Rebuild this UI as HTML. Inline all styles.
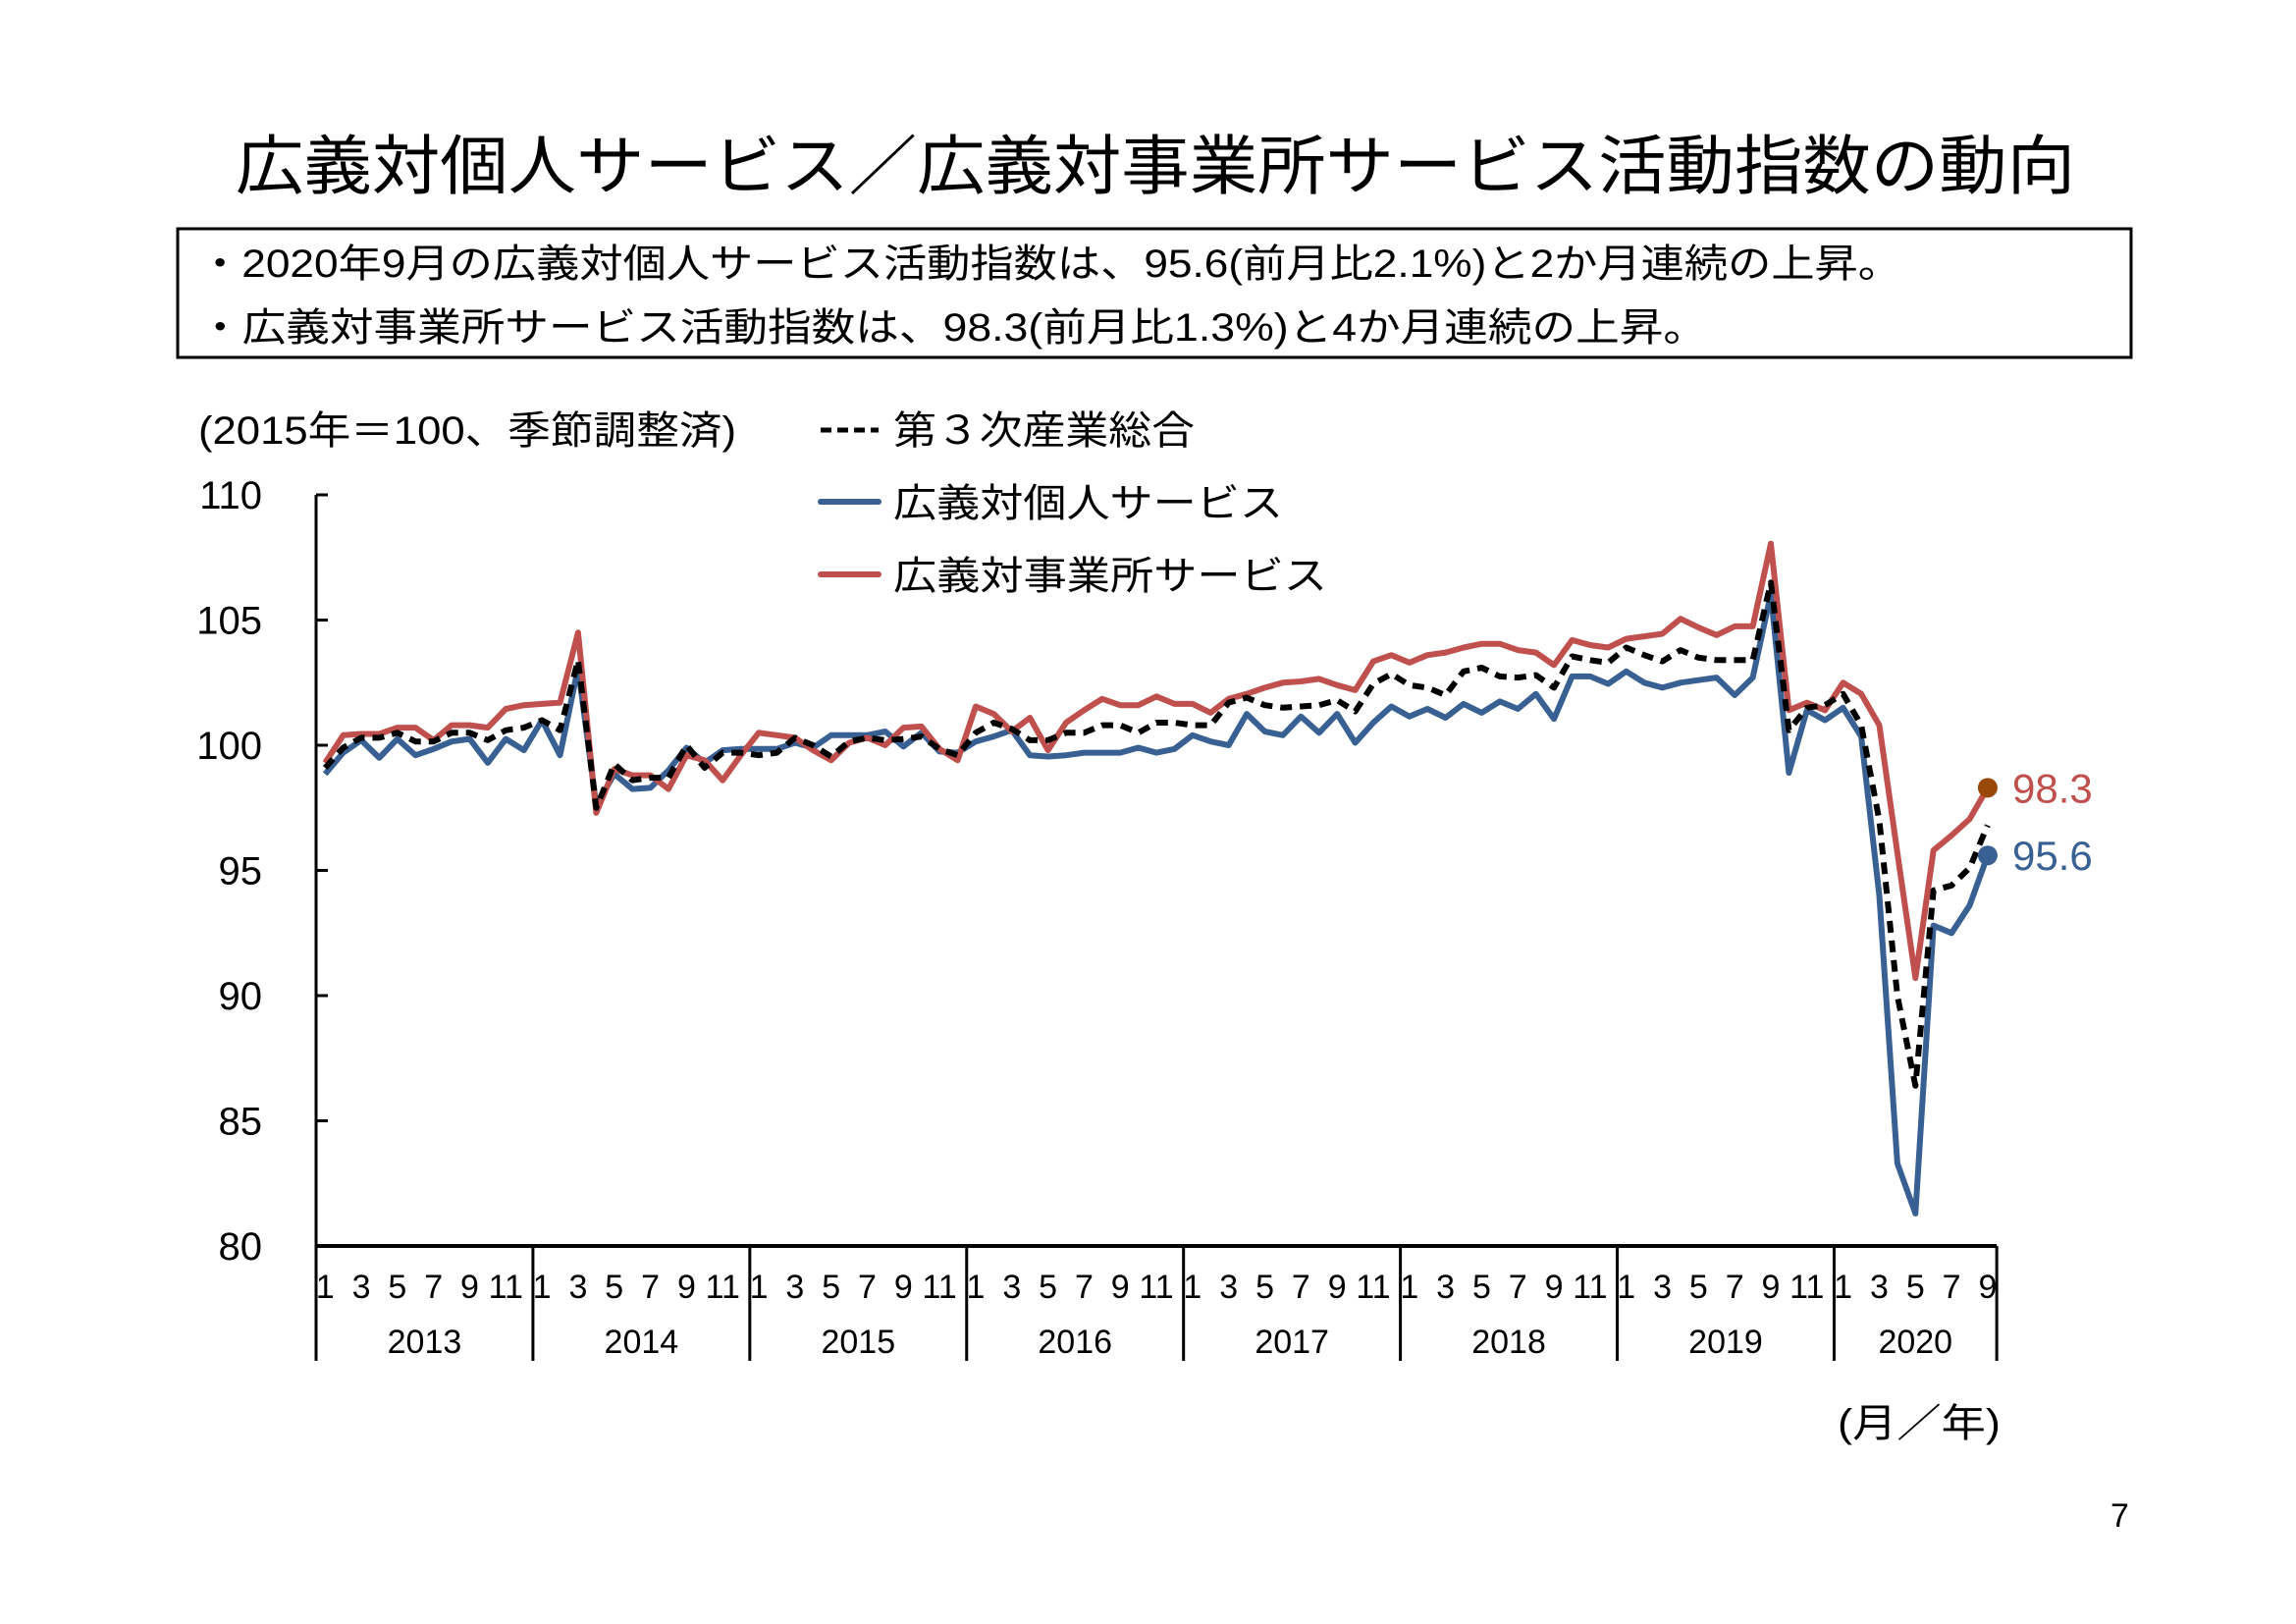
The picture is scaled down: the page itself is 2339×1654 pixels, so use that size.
<!DOCTYPE html>
<html><head><meta charset="utf-8"><style>
html,body{margin:0;padding:0;background:#fff;}
svg{display:block;font-family:"Liberation Sans","Noto Sans CJK JP",sans-serif;}
</style></head><body>
<svg id="chart" width="2339" height="1654" viewBox="0 0 2339 1654" xmlns="http://www.w3.org/2000/svg">
<text x="240" y="192" font-size="66" textLength="1874" lengthAdjust="spacingAndGlyphs">広義対個人サービス／広義対事業所サービス活動指数の動向</text>
<rect x="181" y="233" width="1990" height="131" fill="none" stroke="#000" stroke-width="3"/>
<text x="202" y="282" font-size="40" textLength="1735" lengthAdjust="spacingAndGlyphs">・2020年9月の広義対個人サービス活動指数は、95.6(前月比2.1%)と2か月連続の上昇。</text>
<text x="202" y="347" font-size="40" textLength="1537" lengthAdjust="spacingAndGlyphs">・広義対事業所サービス活動指数は、98.3(前月比1.3%)と4か月連続の上昇。</text>
<text x="202" y="452" font-size="40" textLength="548" lengthAdjust="spacingAndGlyphs">(2015年＝100、季節調整済)</text>
<g>
<line x1="836" y1="438" x2="895" y2="438" stroke="#000" stroke-width="5" stroke-dasharray="11,6"/>
<text x="910" y="452" font-size="40" textLength="307" lengthAdjust="spacingAndGlyphs">第３次産業総合</text>
<line x1="836" y1="511" x2="895" y2="511" stroke="#386092" stroke-width="6" stroke-linecap="round"/>
<text x="910" y="526" font-size="40" textLength="397" lengthAdjust="spacingAndGlyphs">広義対個人サービス</text>
<line x1="836" y1="585" x2="895" y2="585" stroke="#C0504D" stroke-width="6" stroke-linecap="round"/>
<text x="910" y="600" font-size="40" textLength="442" lengthAdjust="spacingAndGlyphs">広義対事業所サービス</text>
</g>
<g id="plot"></g>
<text x="1872" y="1463" font-size="40" textLength="166" lengthAdjust="spacingAndGlyphs">(月／年)</text>
<text x="2150" y="1555" font-size="34">7</text>
</svg>
<script>
const years = ["2013","2014","2015","2016","2017","2018","2019","2020"];
const yTicks = [80,85,90,95,100,105,110];
const personal = [98.85,99.7,100.2,99.5,100.25,99.6,99.85,100.15,100.25,99.3,100.25,99.8,
101.0,99.6,103.1,97.6,98.85,98.25,98.3,99.0,99.9,99.3,99.8,99.85,
99.85,99.85,100.1,99.9,100.4,100.4,100.4,100.55,99.95,100.5,99.75,99.7,
100.15,100.35,100.6,99.6,99.55,99.6,99.7,99.7,99.7,99.9,99.7,99.85,
100.4,100.15,100.0,101.25,100.55,100.4,101.15,100.5,101.25,100.1,100.9,101.55,
101.15,101.45,101.1,101.65,101.3,101.75,101.45,102.05,101.05,102.75,102.75,102.45,
102.95,102.5,102.3,102.5,102.6,102.7,102.0,102.7,106.05,98.9,101.4,101.0,
101.5,100.35,94.0,83.3,81.3,92.8,92.5,93.6,95.6];
const business = [99.3,100.4,100.45,100.45,100.7,100.7,100.2,100.8,100.8,100.7,101.45,101.6,
101.65,101.7,104.5,97.3,99.05,98.8,98.8,98.25,99.6,99.4,98.6,99.6,
100.5,100.4,100.3,99.8,99.4,100.1,100.3,100.0,100.7,100.75,99.85,99.4,
101.55,101.25,100.55,101.1,99.8,100.9,101.4,101.85,101.6,101.6,101.95,101.65,
101.65,101.3,101.85,102.05,102.3,102.5,102.55,102.65,102.4,102.2,103.35,103.6,
103.3,103.6,103.7,103.9,104.05,104.05,103.8,103.7,103.2,104.2,104.0,103.9,
104.25,104.35,104.45,105.05,104.7,104.4,104.75,104.75,108.05,101.4,101.7,101.4,
102.5,102.05,100.8,95.7,90.7,95.8,96.4,97.05,98.3];
const total = [99.1,99.9,100.3,100.3,100.5,100.15,100.15,100.5,100.5,100.2,100.6,100.7,
101.0,100.6,103.4,97.5,99.25,98.6,98.7,98.7,100.0,99.1,99.7,99.7,
99.6,99.7,100.3,100.0,99.55,100.15,100.3,100.2,100.25,100.35,99.85,99.6,
100.5,100.9,100.65,100.2,100.2,100.5,100.5,100.8,100.8,100.5,100.9,100.9,
100.8,100.8,101.7,101.9,101.6,101.5,101.55,101.6,101.8,101.35,102.45,102.85,
102.4,102.3,102.0,102.95,103.1,102.75,102.7,102.8,102.3,103.55,103.4,103.3,
103.9,103.6,103.35,103.8,103.5,103.4,103.4,103.4,106.5,100.6,101.5,101.6,
102.05,100.8,97.0,90.0,86.4,94.2,94.4,95.1,96.8];
const lastLabels = ["98.3","95.6"];

const NS="http://www.w3.org/2000/svg";
const plot=document.getElementById('plot');
const X0=322, STEP=18.41, YMIN=80, YMAX=110, Y_TOP=504, Y_BOT=1269;
const xAt=i=>X0+(i+0.5)*STEP;
const yAt=v=>Y_BOT-(v-YMIN)/(YMAX-YMIN)*(Y_BOT-Y_TOP);
const nMonths=personal.length;
const XEND=X0+nMonths*STEP;
function mk(tag,attrs){const e=document.createElementNS(NS,tag);for(const k in attrs)e.setAttribute(k,attrs[k]);plot.appendChild(e);return e;}

// y axis
let ax=mk('line',{x1:X0,y1:Y_TOP,x2:X0,y2:Y_BOT,stroke:'#000','stroke-width':3});


yTicks.forEach(t=>{
  const tk=mk('line',{x1:X0,y1:yAt(t),x2:X0+12,y2:yAt(t),stroke:'#000','stroke-width':3});
  
  
  const lb=mk('text',{x:267,y:yAt(t)+14,'font-size':40,'text-anchor':'end'});
  lb.textContent=t;
  
  
});
// x axis
let xa=mk('line',{x1:X0,y1:Y_BOT,x2:XEND,y2:Y_BOT,stroke:'#000','stroke-width':4});


years.forEach((yr,k)=>{
  const xs=X0+k*12*STEP;
  const dv=mk('line',{x1:xs,y1:Y_BOT,x2:xs,y2:1386,stroke:'#000','stroke-width':3});
  
  
  const cnt=Math.min(12,nMonths-k*12);
  const yl=mk('text',{x:xs+cnt*STEP/2,y:1378,'font-size':34,'text-anchor':'middle'});
  yl.textContent=yr;
  
  
  for(let m=0;m<cnt;m+=2){
    const ml=mk('text',{x:xAt(k*12+m),y:1322,'font-size':34,'text-anchor':'middle'});
    ml.textContent=String(m+1);
    
    
  }
});
const ed=mk('line',{x1:XEND,y1:Y_BOT,x2:XEND,y2:1386,stroke:'#000','stroke-width':3});



function series(arr,color,dash,name){
  const d=arr.map((v,i)=>(i?'L':'M')+xAt(i).toFixed(1)+','+yAt(v).toFixed(1)).join(' ');
  const p=mk('path',{d:d,fill:'none',stroke:color,'stroke-width':dash?6:6,'stroke-linejoin':'round'});
  if(dash){p.setAttribute('stroke-dasharray','12,8');}
  
  
}
series(personal,'#386092',false,'series-personal');
series(business,'#C0504D',false,'series-business');
series(total,'#000',true,'series-total');

const li=nMonths-1;
const m1=mk('circle',{cx:xAt(li),cy:yAt(business[li]),r:10,fill:'#984807'});


const m2=mk('circle',{cx:xAt(li),cy:yAt(personal[li]),r:10,fill:'#386092'});


const t1=mk('text',{x:2050,y:yAt(business[li])+15,'font-size':42,fill:'#C0504D'});
t1.textContent=lastLabels[0];


const t2=mk('text',{x:2050,y:yAt(personal[li])+15,'font-size':42,fill:'#386092'});
t2.textContent=lastLabels[1];


</script>
</body></html>
